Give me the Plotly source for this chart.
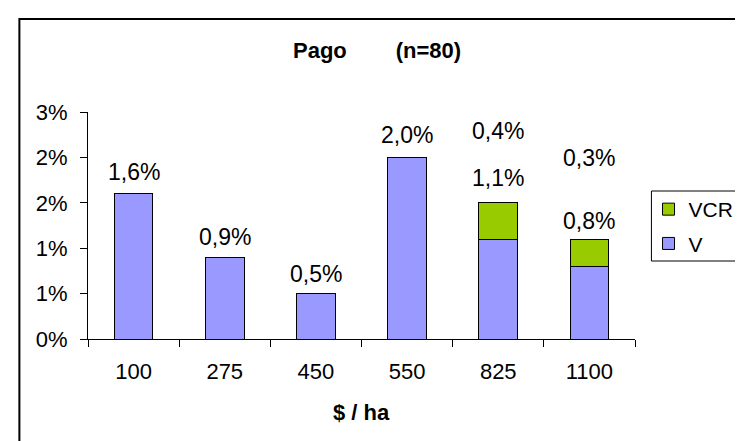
import plotly.graph_objects as go

categories = ["100", "275", "450", "550", "825", "1100"]
v_values = [1.6, 0.9, 0.5, 2.0, 1.1, 0.8]
vcr_values = [0, 0, 0, 0, 0.4, 0.3]
v_labels = ["1,6%", "0,9%", "0,5%", "2,0%", "1,1%", "0,8%"]
vcr_labels = ["", "", "", "", "0,4%", "0,3%"]
y_tickvals = [0, 0.5, 1.0, 1.5, 2.0, 2.5]
y_ticktext = ["0%", "1%", "1%", "2%", "2%", "3%"]

W, H = 743, 441
L, R, T, B = 80, 97, 104, 110
pw, ph = W - L - R, H - T - B

def px2x(p):
    return (p - L) / pw

def px2y(p):
    return (H - B - p) / ph

FONT = "Liberation Sans, Arial, sans-serif"

fig = go.Figure()
fig.add_trace(go.Bar(x=categories, y=v_values, name="V", legendgroup="v", legendrank=2,
                     marker=dict(color="#9999FF", line=dict(color="black", width=1))))
fig.add_trace(go.Bar(x=categories, y=vcr_values, name="VCR", legendgroup="vcr", legendrank=1,
                     marker=dict(color="#99CC00", line=dict(color="black", width=1))))

# label offsets (px above stack top)
v_off = [22, 20, 20, 22, 25, 18]
vcr_off = [0, 0, 0, 0, 72, 81]
annotations = []
for i, c in enumerate(categories):
    top = v_values[i] + vcr_values[i]
    annotations.append(dict(x=i, y=top, text=v_labels[i], showarrow=False,
                            yanchor="middle", yshift=v_off[i],
                            font=dict(family=FONT, size=23, color="black")))
    if vcr_labels[i]:
        annotations.append(dict(x=i, y=top, text=vcr_labels[i], showarrow=False,
                                yanchor="middle", yshift=vcr_off[i],
                                font=dict(family=FONT, size=23, color="black")))

annotations.append(dict(xref="paper", yref="paper", x=px2x(379), y=px2y(43),
                        text="<b>Pago" + "\u00a0" * 8 + "(n=80)</b>",
                        showarrow=False, xanchor="center", yanchor="middle",
                        font=dict(family=FONT, size=22, color="black")))
annotations.append(dict(xref="paper", yref="paper", x=px2x(363), y=px2y(404),
                        text="<b>$ / ha</b>", showarrow=False,
                        xanchor="center", yanchor="middle",
                        font=dict(family=FONT, size=22, color="black")))

shapes = [
    dict(type="rect", xref="paper", yref="paper",
         x0=px2x(9), x1=px2x(760), y0=px2y(460), y1=px2y(11),
         line=dict(color="black", width=2), fillcolor="rgba(0,0,0,0)", layer="below"),
    dict(type="rect", xref="paper", yref="paper",
         x0=px2x(663), x1=px2x(760), y0=px2y(253), y1=px2y(183),
         line=dict(color="black", width=1), fillcolor="white", layer="below"),
]

fig.update_layout(
    width=W, height=H,
    margin=dict(l=L, r=R, t=T, b=B),
    paper_bgcolor="white", plot_bgcolor="white",
    barmode="stack", bargap=0.576,
    showlegend=True,
    legend=dict(x=px2x(660), y=px2y(181), xanchor="left", yanchor="top",
                traceorder="grouped", bgcolor="rgba(0,0,0,0)", borderwidth=0,
                font=dict(family=FONT, size=21, color="black"),
                itemwidth=30, tracegroupgap=4),
    xaxis=dict(type="category", range=[-0.5, len(categories) - 0.5],
               showline=True, linecolor="black", linewidth=1.3,
               ticks="outside", ticklen=7, tickcolor="black", tickwidth=1.3,
               tickson="boundaries", showgrid=False, tickangle=0,
               ticklabelstandoff=12,
               tickfont=dict(family=FONT, size=22, color="black")),
    yaxis=dict(range=[0, 2.5], tickvals=y_tickvals, ticktext=y_ticktext,
               showline=True, linecolor="black", linewidth=1.3,
               ticks="outside", ticklen=7, tickcolor="black", tickwidth=1.3,
               showgrid=False, zeroline=False, ticklabelstandoff=8,
               tickfont=dict(family=FONT, size=22, color="black")),
    annotations=annotations,
    shapes=shapes,
)

fig.write_html("out.html")
